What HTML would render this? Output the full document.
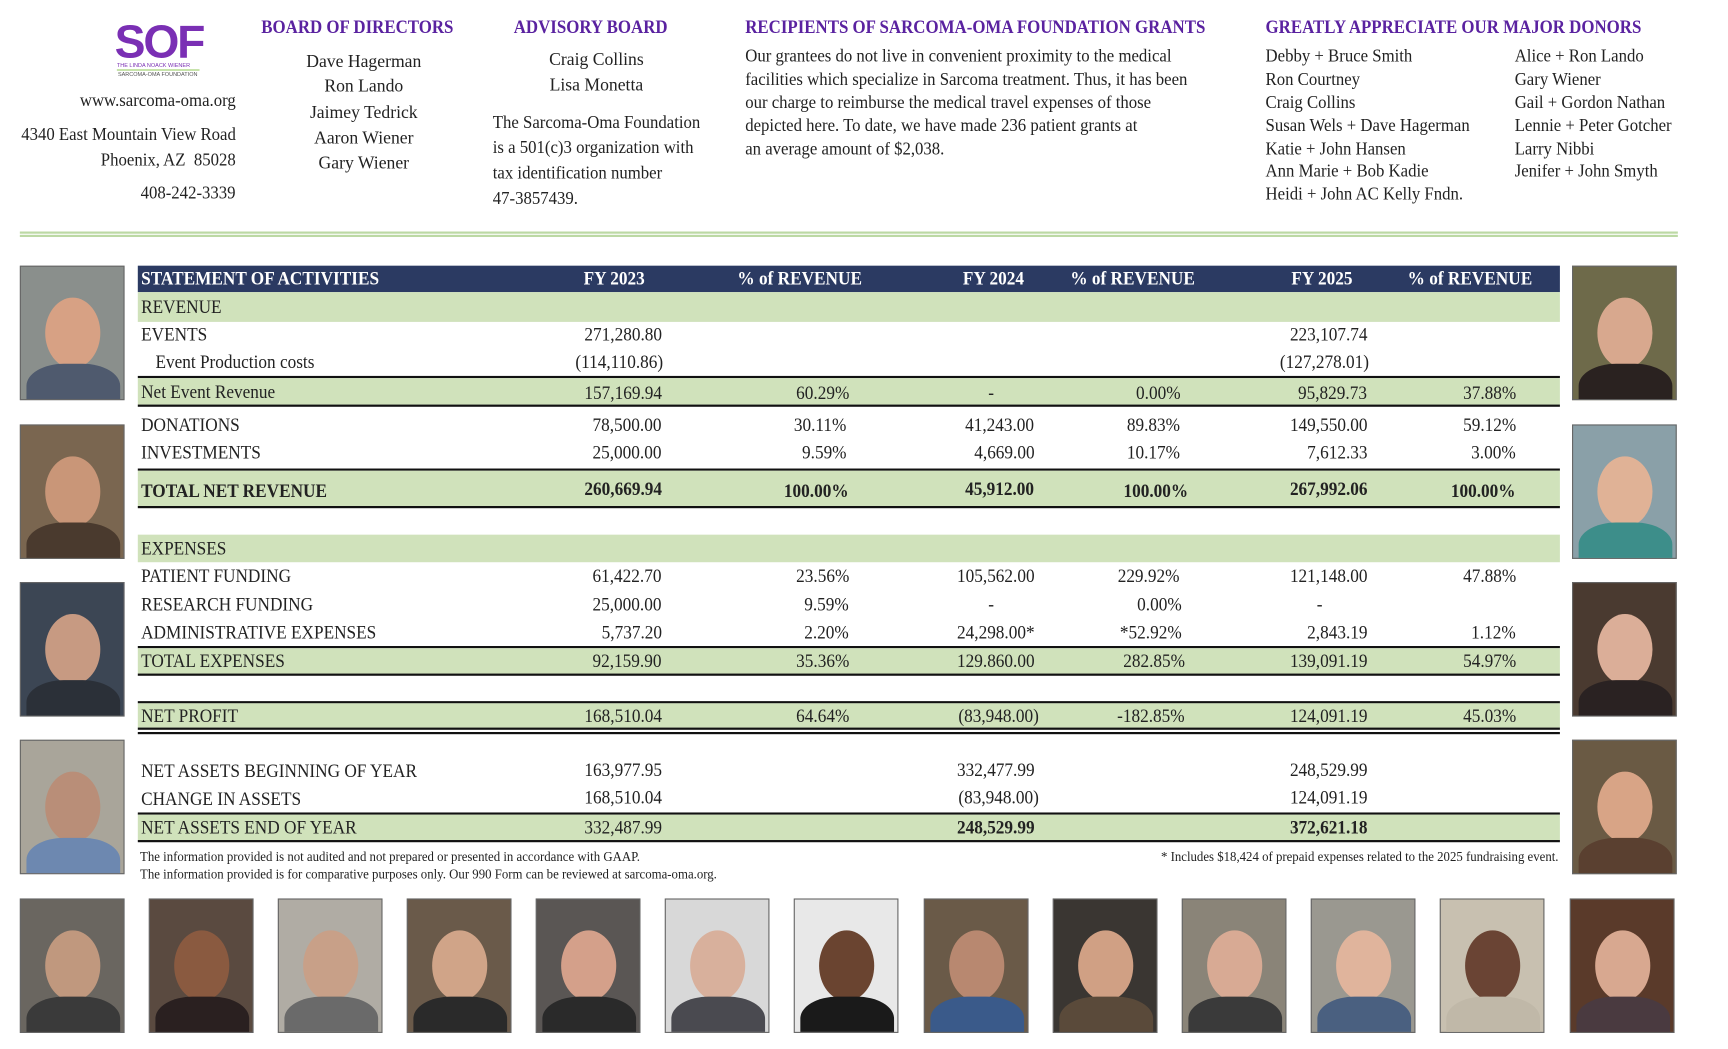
<!DOCTYPE html>
<html><head><meta charset="utf-8"><style>
html,body{margin:0;padding:0;background:#fff;width:1728px;height:1049px;overflow:hidden}
#w{position:absolute;left:0;top:0;width:1545px;height:938px;transform:scale(1.1024);transform-origin:0 0;font-family:"Liberation Serif",serif;color:#222}
.a{position:absolute;white-space:nowrap;line-height:1}
.h{color:#5a22a0;font-size:17px;font-weight:bold;transform:scaleX(.9);transform-origin:0 0}
.t{font-size:16px;transform:scaleX(.95);transform-origin:0 0}
.band{position:absolute;left:125px;width:1290px;background:#d0e2bb}
.ln{position:absolute;left:125px;width:1290px;background:#111}
.tx{position:absolute;font-size:17px;line-height:1;white-space:nowrap;transform:scaleX(.92)}
.L{left:128px;transform-origin:0 0}
.n{text-align:right;transform-origin:100% 0}
.b{font-weight:bold}
.ph{position:absolute;width:95px;height:122px;border:1px solid #666;box-sizing:border-box;overflow:hidden}
.ph i{position:absolute;left:22px;top:28px;width:50px;height:64px;border-radius:50%;background:#d7a184}
.ph s{position:absolute;left:5px;top:88px;width:85px;height:50px;border-radius:40% 40% 0 0}
</style></head><body><div id="w">

<div class="a" style="left:104px;top:14px;font:bold 42px 'Liberation Sans',sans-serif;color:#7a2fb4;letter-spacing:-2px">SOF</div>
<div class="a" style="left:106px;top:57px;font:5px 'Liberation Sans',sans-serif;color:#7a2fb4">THE LINDA NOACK WIENER</div>
<div style="position:absolute;left:106px;top:63px;width:75px;height:1px;background:#9c6"></div>
<div class="a" style="left:107px;top:65px;font:5px 'Liberation Sans',sans-serif;color:#555">SARCOMA-OMA FOUNDATION</div>

<div class="a t" style="right:1331px;top:84px;transform-origin:100% 0">www.sarcoma-oma.org</div>
<div class="a t" style="right:1331px;top:115px;transform-origin:100% 0">4340 East Mountain View Road</div>
<div class="a t" style="right:1331px;top:138px;transform-origin:100% 0">Phoenix, AZ&nbsp; 85028</div>
<div class="a t" style="right:1331px;top:168px;transform-origin:100% 0">408-242-3339</div>

<div class="a h" style="left:237px;top:16px">BOARD OF DIRECTORS</div>
<div class="a t" style="left:230px;width:200px;text-align:center;top:49px;transform:none">Dave Hagerman</div>
<div class="a t" style="left:230px;width:200px;text-align:center;top:71px;transform:none">Ron Lando</div>
<div class="a t" style="left:230px;width:200px;text-align:center;top:95px;transform:none">Jaimey Tedrick</div>
<div class="a t" style="left:230px;width:200px;text-align:center;top:118px;transform:none">Aaron Wiener</div>
<div class="a t" style="left:230px;width:200px;text-align:center;top:141px;transform:none">Gary Wiener</div>

<div class="a h" style="left:466px;top:16px">ADVISORY BOARD</div>
<div class="a t" style="left:441px;width:200px;text-align:center;top:47px;transform:none">Craig Collins</div>
<div class="a t" style="left:441px;width:200px;text-align:center;top:70px;transform:none">Lisa Monetta</div>
<div class="a t" style="left:447px;top:104px">The Sarcoma-Oma Foundation</div>
<div class="a t" style="left:447px;top:127px">is a 501(c)3 organization with</div>
<div class="a t" style="left:447px;top:150px">tax identification number</div>
<div class="a t" style="left:447px;top:173px">47-3857439.</div>

<div class="a h" style="left:676px;top:16px">RECIPIENTS OF SARCOMA-OMA FOUNDATION GRANTS</div>
<div class="a t" style="left:676px;top:44px">Our grantees do not live in convenient proximity to the medical</div>
<div class="a t" style="left:676px;top:65px">facilities which specialize in Sarcoma treatment. Thus, it has been</div>
<div class="a t" style="left:676px;top:86px">our charge to reimburse the medical travel expenses of those</div>
<div class="a t" style="left:676px;top:107px">depicted here. To date, we have made 236 patient grants at</div>
<div class="a t" style="left:676px;top:128px">an average amount of $2,038.</div>

<div class="a h" style="left:1148px;top:16px">GREATLY APPRECIATE OUR MAJOR DONORS</div>
<div class="a t" style="left:1148px;top:44px">Debby + Bruce Smith</div>
<div class="a t" style="left:1148px;top:65px">Ron Courtney</div>
<div class="a t" style="left:1148px;top:86px">Craig Collins</div>
<div class="a t" style="left:1148px;top:107px">Susan Wels + Dave Hagerman</div>
<div class="a t" style="left:1148px;top:128px">Katie + John Hansen</div>
<div class="a t" style="left:1148px;top:148px">Ann Marie + Bob Kadie</div>
<div class="a t" style="left:1148px;top:169px">Heidi + John AC Kelly Fndn.</div>
<div class="a t" style="left:1374px;top:44px">Alice + Ron Lando</div>
<div class="a t" style="left:1374px;top:65px">Gary Wiener</div>
<div class="a t" style="left:1374px;top:86px">Gail + Gordon Nathan</div>
<div class="a t" style="left:1374px;top:107px">Lennie + Peter Gotcher</div>
<div class="a t" style="left:1374px;top:128px">Larry Nibbi</div>
<div class="a t" style="left:1374px;top:148px">Jenifer + John Smyth</div>

<div style="position:absolute;left:18px;top:210px;width:1504px;height:1.5px;background:#bcd9a4"></div>
<div style="position:absolute;left:18px;top:213px;width:1504px;height:1.5px;background:#bcd9a4"></div>

<div style="position:absolute;left:125px;top:241px;width:1290px;height:24px;background:#2b3a62"></div>
<div class="tx L b" style="top:244px;color:#fff">STATEMENT OF ACTIVITIES</div>
<div class="tx b" style="left:527px;top:244px;color:#fff">FY 2023</div>
<div class="tx b" style="left:664px;top:244px;color:#fff">% of REVENUE</div>
<div class="tx b" style="left:871px;top:244px;color:#fff">FY 2024</div>
<div class="tx b" style="left:966px;top:244px;color:#fff">% of REVENUE</div>
<div class="tx b" style="left:1169px;top:244px;color:#fff">FY 2025</div>
<div class="tx b" style="left:1272px;top:244px;color:#fff">% of REVENUE</div>

<div class="band" style="top:265px;height:27px"></div>
<div class="tx L" style="top:270px">REVENUE</div>
<div class="tx L" style="top:295px">EVENTS</div>
<div class="tx n" style="right:945px;top:295px">271,280.80</div>
<div class="tx n" style="right:305px;top:295px">223,107.74</div>
<div class="tx L" style="left:141px;top:320px">Event Production costs</div>
<div class="tx n" style="right:943px;top:320px">(114,110.86)</div>
<div class="tx n" style="right:303px;top:320px">(127,278.01)</div>

<div class="ln" style="top:341px;height:2px"></div>
<div class="band" style="top:343px;height:24px"></div>
<div class="ln" style="top:367px;height:2px"></div>
<div class="tx L" style="top:347px">Net Event Revenue</div>
<div class="tx n" style="right:945px;top:348px">157,169.94</div>
<div class="tx n" style="right:775px;top:348px">60.29%</div>
<div class="tx n" style="right:643px;top:348px">-</div>
<div class="tx n" style="right:474px;top:348px">0.00%</div>
<div class="tx n" style="right:305px;top:348px">95,829.73</div>
<div class="tx n" style="right:170px;top:348px">37.88%</div>

<div class="tx L" style="top:377px">DONATIONS</div>
<div class="tx n" style="right:945px;top:377px">78,500.00</div>
<div class="tx n" style="right:777px;top:377px">30.11%</div>
<div class="tx n" style="right:607px;top:377px">41,243.00</div>
<div class="tx n" style="right:475px;top:377px">89.83%</div>
<div class="tx n" style="right:305px;top:377px">149,550.00</div>
<div class="tx n" style="right:170px;top:377px">59.12%</div>
<div class="tx L" style="top:402px">INVESTMENTS</div>
<div class="tx n" style="right:945px;top:402px">25,000.00</div>
<div class="tx n" style="right:777px;top:402px">9.59%</div>
<div class="tx n" style="right:607px;top:402px">4,669.00</div>
<div class="tx n" style="right:475px;top:402px">10.17%</div>
<div class="tx n" style="right:305px;top:402px">7,612.33</div>
<div class="tx n" style="right:170px;top:402px">3.00%</div>

<div class="ln" style="top:425px;height:2px"></div>
<div class="band" style="top:427px;height:32px"></div>
<div class="ln" style="top:459px;height:2px"></div>
<div class="tx L b" style="top:437px">TOTAL NET REVENUE</div>
<div class="tx n b" style="right:945px;top:435px">260,669.94</div>
<div class="tx n b" style="right:775px;top:437px">100.00%</div>
<div class="tx n b" style="right:607px;top:435px">45,912.00</div>
<div class="tx n b" style="right:467px;top:437px">100.00%</div>
<div class="tx n b" style="right:305px;top:435px">267,992.06</div>
<div class="tx n b" style="right:170px;top:437px">100.00%</div>

<div class="band" style="top:485px;height:25px"></div>
<div class="tx L" style="top:489px">EXPENSES</div>
<div class="tx L" style="top:514px">PATIENT FUNDING</div>
<div class="tx n" style="right:945px;top:514px">61,422.70</div>
<div class="tx n" style="right:775px;top:514px">23.56%</div>
<div class="tx n" style="right:607px;top:514px">105,562.00</div>
<div class="tx n" style="right:475px;top:514px">229.92%</div>
<div class="tx n" style="right:305px;top:514px">121,148.00</div>
<div class="tx n" style="right:170px;top:514px">47.88%</div>
<div class="tx L" style="top:540px">RESEARCH FUNDING</div>
<div class="tx n" style="right:945px;top:540px">25,000.00</div>
<div class="tx n" style="right:775px;top:540px">9.59%</div>
<div class="tx n" style="right:643px;top:540px">-</div>
<div class="tx n" style="right:473px;top:540px">0.00%</div>
<div class="tx n" style="right:345px;top:540px">-</div>
<div class="tx L" style="top:565px">ADMINISTRATIVE EXPENSES</div>
<div class="tx n" style="right:945px;top:565px">5,737.20</div>
<div class="tx n" style="right:775px;top:565px">2.20%</div>
<div class="tx n" style="right:607px;top:565px">24,298.00*</div>
<div class="tx n" style="right:473px;top:565px">*52.92%</div>
<div class="tx n" style="right:305px;top:565px">2,843.19</div>
<div class="tx n" style="right:170px;top:565px">1.12%</div>

<div class="ln" style="top:586px;height:2px"></div>
<div class="band" style="top:588px;height:23px"></div>
<div class="ln" style="top:611px;height:2px"></div>
<div class="tx L" style="top:591px">TOTAL EXPENSES</div>
<div class="tx n" style="right:945px;top:591px">92,159.90</div>
<div class="tx n" style="right:775px;top:591px">35.36%</div>
<div class="tx n" style="right:607px;top:591px">129.860.00</div>
<div class="tx n" style="right:470px;top:591px">282.85%</div>
<div class="tx n" style="right:305px;top:591px">139,091.19</div>
<div class="tx n" style="right:170px;top:591px">54.97%</div>

<div class="ln" style="top:636px;height:2px"></div>
<div class="band" style="top:638px;height:22px"></div>
<div class="ln" style="top:660px;height:2px"></div>
<div class="ln" style="top:664px;height:2px"></div>
<div class="tx L" style="top:641px">NET PROFIT</div>
<div class="tx n" style="right:945px;top:641px">168,510.04</div>
<div class="tx n" style="right:775px;top:641px">64.64%</div>
<div class="tx n" style="right:603px;top:641px">(83,948.00)</div>
<div class="tx n" style="right:470px;top:641px">-182.85%</div>
<div class="tx n" style="right:305px;top:641px">124,091.19</div>
<div class="tx n" style="right:170px;top:641px">45.03%</div>

<div class="tx L" style="top:691px">NET ASSETS BEGINNING OF YEAR</div>
<div class="tx n" style="right:945px;top:690px">163,977.95</div>
<div class="tx n" style="right:607px;top:690px">332,477.99</div>
<div class="tx n" style="right:305px;top:690px">248,529.99</div>
<div class="tx L" style="top:716px">CHANGE IN ASSETS</div>
<div class="tx n" style="right:945px;top:715px">168,510.04</div>
<div class="tx n" style="right:603px;top:715px">(83,948.00)</div>
<div class="tx n" style="right:305px;top:715px">124,091.19</div>
<div class="ln" style="top:737px;height:2px"></div>
<div class="band" style="top:739px;height:23px"></div>
<div class="ln" style="top:762px;height:2px"></div>
<div class="tx L" style="top:742px">NET ASSETS END OF YEAR</div>
<div class="tx n" style="right:945px;top:742px">332,487.99</div>
<div class="tx n b" style="right:607px;top:742px">248,529.99</div>
<div class="tx n b" style="right:305px;top:742px">372,621.18</div>

<div class="a" style="left:127px;top:771px;font-size:12.5px;transform:scaleX(.93);transform-origin:0 0">The information provided is not audited and not prepared or presented in accordance with GAAP.</div>
<div class="a" style="left:127px;top:787px;font-size:12.5px;transform:scaleX(.93);transform-origin:0 0">The information provided is for comparative purposes only. Our 990 Form can be reviewed at sarcoma-oma.org.</div>
<div class="a" style="right:131px;top:771px;font-size:12.5px;transform:scaleX(.93);transform-origin:100% 0">* Includes $18,424 of prepaid expenses related to the 2025 fundraising event.</div>

<div class="ph" style="left:18px;top:241px;background:#8a8f8c"><i></i><s style="background:#4f5a6e"></s></div>
<div class="ph" style="left:18px;top:385px;background:#7a6650"><i style="background:#c99678"></i><s style="background:#4a3a2e"></s></div>
<div class="ph" style="left:18px;top:528px;background:#3c4654"><i style="background:#c79a82"></i><s style="background:#2b3038"></s></div>
<div class="ph" style="left:18px;top:671px;background:#a9a59a"><i style="background:#b98e78"></i><s style="background:#6d88b0"></s></div>
<div class="ph" style="left:1426px;top:241px;background:#6e6a4a"><i style="background:#d8a88e"></i><s style="background:#2a2220"></s></div>
<div class="ph" style="left:1426px;top:385px;background:#8aa0a8"><i style="background:#e0b296"></i><s style="background:#3d8e8a"></s></div>
<div class="ph" style="left:1426px;top:528px;background:#4a3a30"><i style="background:#dbae98"></i><s style="background:#2a2222"></s></div>
<div class="ph" style="left:1426px;top:671px;background:#6a5a44"><i style="background:#d8a486"></i><s style="background:#5a4030"></s></div>

<div class="ph" style="left:18px;top:815px;background:#6a6660"><i style="background:#c0987e"></i><s style="background:#3a3a3a"></s></div>
<div class="ph" style="left:135px;top:815px;background:#5a4a40"><i style="background:#8a5a40"></i><s style="background:#2a2020"></s></div>
<div class="ph" style="left:252px;top:815px;background:#b0aca4"><i style="background:#c8a088"></i><s style="background:#6a6a6a"></s></div>
<div class="ph" style="left:369px;top:815px;background:#6a5a4a"><i style="background:#d0a488"></i><s style="background:#2a2a2a"></s></div>
<div class="ph" style="left:486px;top:815px;background:#5a5654"><i style="background:#d4a08a"></i><s style="background:#2a2a2a"></s></div>
<div class="ph" style="left:603px;top:815px;background:#d8d8d8"><i style="background:#d8b09c"></i><s style="background:#4a4a50"></s></div>
<div class="ph" style="left:720px;top:815px;background:#e8e8e8"><i style="background:#6a4430"></i><s style="background:#1a1a1a"></s></div>
<div class="ph" style="left:838px;top:815px;background:#6a5a48"><i style="background:#b88870"></i><s style="background:#3a5a8a"></s></div>
<div class="ph" style="left:955px;top:815px;background:#3a3632"><i style="background:#d0a084"></i><s style="background:#5a4a3a"></s></div>
<div class="ph" style="left:1072px;top:815px;background:#8a8478"><i style="background:#d8aa94"></i><s style="background:#3a3a3a"></s></div>
<div class="ph" style="left:1189px;top:815px;background:#9a9890"><i style="background:#e0b49c"></i><s style="background:#4a6080"></s></div>
<div class="ph" style="left:1306px;top:815px;background:#c8c0b0"><i style="background:#6a4434"></i><s style="background:#c0b8a8"></s></div>
<div class="ph" style="left:1424px;top:815px;background:#5a3a2a"><i style="background:#d8a890"></i><s style="background:#4a3a40"></s></div>

</div></body></html>
